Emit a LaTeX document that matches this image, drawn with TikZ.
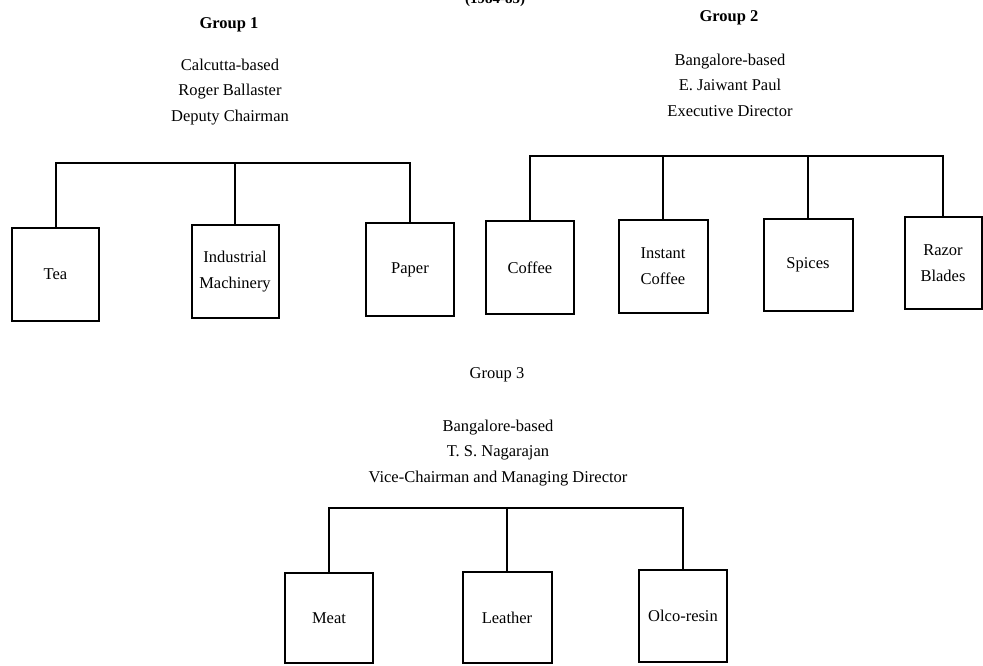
\documentclass[tikz,border=0pt]{standalone}
\usepackage{fontspec}
\setmainfont{Liberation Serif}
\begin{document}
\begin{tikzpicture}[x=1pt,y=-1pt,
  unit/.style={draw, line width=2pt, rectangle, minimum width=88pt, minimum height=92pt, align=center, inner sep=2pt, font=\fontsize{16.5}{26}\selectfont},
  grp/.style={font=\fontsize{16.5}{20}\selectfont\bfseries},
  head/.style={align=center, font=\fontsize{16.5}{25.5}\selectfont},
  link/.style={line width=2pt}]
\useasboundingbox (0,0) rectangle (983,665);
\node[font=\fontsize{15}{18}\selectfont\bfseries] (yr) at (495,0) {(1984-85)};
% Group 1
\node[grp] (g1) at (229,25) {Group 1};
\node[head] (h1) at (230,92) {Calcutta-based\\Roger Ballaster\\Deputy Chairman};
\node[unit, minimum width=87pt, minimum height=93pt] (tea) at (55.5,274.5) {Tea};
\node[unit, minimum width=87pt, minimum height=93pt] (ind) at (235,271.5) {Industrial\\Machinery};
\node[unit, minimum height=93pt] (pap) at (410,269.5) {Paper};
\coordinate (b1) at (233,163);
\draw[link] (tea.north) |- (b1) -| (pap.north);
\draw[link] (ind.north) -- (ind.north |- b1);
% Group 2
\node[grp] (g2) at (729,18) {Group 2};
\node[head] (h2) at (730,85) {Bangalore-based\\E. Jaiwant Paul\\Executive Director};
\node[unit, minimum height=93pt] (cof) at (530,267.5) {Coffee};
\node[unit, minimum width=89pt, minimum height=93pt] (ins) at (663,266.5) {Instant\\Coffee};
\node[unit, minimum width=89pt] (spi) at (808,265) {Spices};
\node[unit, minimum width=77pt] (raz) at (943,263) {Razor\\Blades};
\coordinate (b2) at (663,156);
\draw[link] (cof.north) |- (b2) -| (raz.north);
\draw[link] (ins.north) -- (ins.north |- b2);
\draw[link] (spi.north) -- (spi.north |- b2);
% Group 3
\node[grp, font=\fontsize{16.5}{20}\selectfont] (g3) at (497,375) {Group 3};
\node[head] (h3) at (498,453) {Bangalore-based\\T. S. Nagarajan\\Vice-Chairman and Managing Director};
\node[unit, minimum height=90pt] (mea) at (329,618) {Meat};
\node[unit, minimum width=89pt, minimum height=91pt] (lea) at (507,617.5) {Leather};
\node[unit] (olc) at (683,616) {Olco-resin};
\coordinate (b3) at (506,508);
\draw[link] (mea.north) |- (b3) -| (olc.north);
\draw[link] (lea.north) -- (lea.north |- b3);
\end{tikzpicture}
\end{document}
